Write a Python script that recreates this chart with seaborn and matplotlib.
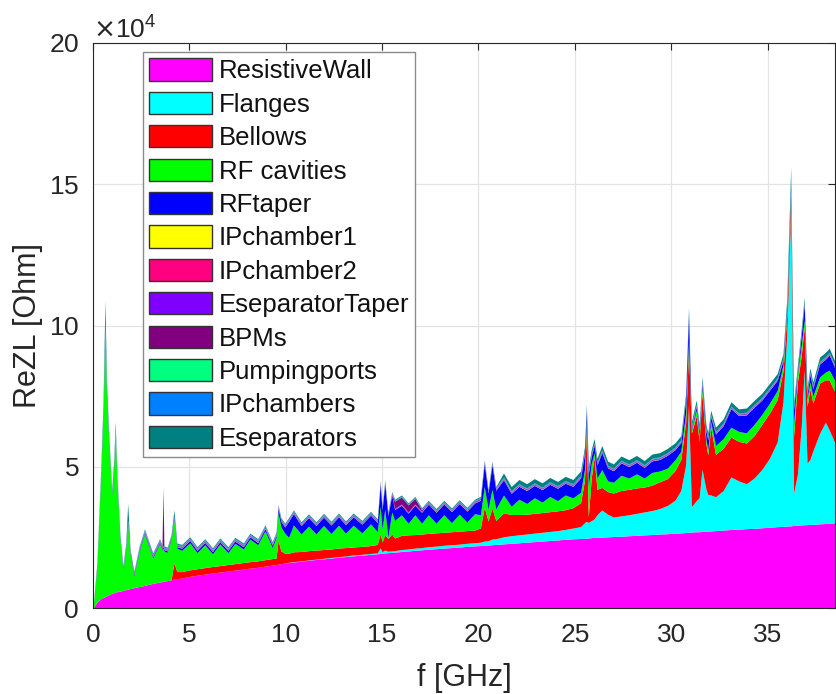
import numpy as np
import matplotlib
matplotlib.use("Agg")
import matplotlib.pyplot as plt
import seaborn as sns
from matplotlib.patches import Patch
from matplotlib.ticker import ScalarFormatter

# frequency points [GHz]
freq = [0.0, 0.2, 0.4, 0.52, 0.62, 0.7, 0.8, 0.97, 1.08, 1.15,
        1.25, 1.4, 1.55, 1.7, 1.8, 1.92, 2.12, 2.4, 2.67, 2.9,
        3.1, 3.45, 3.58, 3.63, 3.68, 3.85, 4.05, 4.2, 4.35, 4.6,
        5.02, 5.4, 5.8, 6.2, 6.58, 7.0, 7.36, 7.8, 8.14, 8.55,
        8.92, 9.3, 9.5, 9.6, 9.75, 9.95, 10.15, 10.4, 10.8, 11.18,
        11.57, 11.96, 12.35, 12.74, 13.1, 13.5, 13.95, 14.4, 14.75, 14.9,
        15.0, 15.14, 15.3, 15.5, 15.65, 16.0, 16.35, 16.7, 17.05, 17.4,
        17.8, 18.2, 18.6, 19.0, 19.4, 19.8, 20.1, 20.3, 20.5, 20.7,
        20.9, 21.3, 21.7, 22.1, 22.5, 22.9, 23.3, 23.7, 24.1, 24.5,
        24.9, 25.3, 25.5, 25.6, 25.7, 25.85, 26.0, 26.15, 26.4, 26.7,
        27.0, 27.4, 27.8, 28.2, 28.6, 29.0, 29.4, 29.8, 30.2, 30.5,
        30.75, 30.9, 31.05, 31.3, 31.45, 31.6, 31.8, 31.9, 32.05, 32.3,
        32.7, 33.1, 33.5, 33.9, 34.3, 34.7, 35.1, 35.5, 35.8, 36.0,
        36.2, 36.35, 36.55, 36.75, 36.9, 37.05, 37.2, 37.35, 37.7, 38.0,
        38.2, 38.45, 38.75]

# contributions, in units of 1e4 Ohm
resistive_wall = [0, .2, .33, .37, .4, .43, .46, .52, .54, .56,
                  .58, .6, .62, .65, .67, .69, .72, .76, .8, .84,
                  .87, .92, .93, .94, .95, .97, 1.0, 1.02, 1.04, 1.06,
                  1.12, 1.16, 1.2, 1.24, 1.27, 1.31, 1.34, 1.38, 1.41, 1.44,
                  1.48, 1.52, 1.54, 1.55, 1.57, 1.59, 1.61, 1.63, 1.66, 1.69,
                  1.72, 1.74, 1.77, 1.8, 1.82, 1.85, 1.87, 1.9, 1.92, 1.93,
                  1.94, 1.95, 1.96, 1.97, 1.98, 2.0, 2.02, 2.04, 2.06, 2.08,
                  2.1, 2.12, 2.14, 2.16, 2.18, 2.2, 2.21, 2.22, 2.23, 2.24,
                  2.25, 2.27, 2.29, 2.31, 2.33, 2.35, 2.37, 2.39, 2.41, 2.43,
                  2.45, 2.46, 2.47, 2.47, 2.48, 2.49, 2.5, 2.5, 2.51, 2.52,
                  2.53, 2.54, 2.56, 2.57, 2.59, 2.6, 2.62, 2.63, 2.65, 2.66,
                  2.67, 2.68, 2.69, 2.7, 2.7, 2.71, 2.72, 2.72, 2.73, 2.74,
                  2.76, 2.78, 2.79, 2.81, 2.82, 2.84, 2.86, 2.88, 2.89, 2.9,
                  2.91, 2.92, 2.93, 2.94, 2.95, 2.95, 2.96, 2.96, 2.98, 2.99,
                  3.0, 3.01, 3.02]

flanges = [0, 0, 0, 0, 0, 0, 0, 0, 0, 0,
           0, 0, 0, 0, 0, 0, 0, 0, 0, 0,
           0, 0, 0, 0, 0, 0, 0, 0, 0, 0,
           0, 0, 0, 0, 0, 0, 0, 0, 0, 0,
           0, 0, 0, 0, 0, 0, .01, .01, .01, .01,
           .01, .02, .02, .02, .02, .03, .03, .03, .03, .2,
           .05, .1, .05, .05, .05, .07, .07, .08, .08, .09,
           .09, .1, .1, .1, .11, .11, .12, .15, .15, .2,
           .2, .25, .27, .28, .29, .3, .31, .32, .33, .35,
           .38, .42, .55, .6, .55, .6, .65, .8, .96, .8,
           .69, .72, .74, .78, .81, .85, .9, 1.0, 1.17, 1.5,
           2.4, 4.5, .9, 1.1, 1.2, 2.2, 1.5, 1.3, 1.27, 1.2,
           1.4, 1.86, 1.71, 1.59, 1.78, 2.06, 2.44, 3.0, 4.4, 6.8,
           11.1, 1.15, 1.8, 3.5, 5.5, 2.18, 2.3, 2.6, 3.2, 3.59,
           3.3, 2.9, 2.82]

bellows = [0, 0, 0, 0, 0, 0, 0, 0, 0, 0,
           0, 0, 0, 0, 0, 0, 0, 0, 0, 0,
           0, 0, 0, 0, 0, 0, 0, .58, .25, .23,
           .23, .23, .23, .23, .23, .23, .23, .23, .23, .23,
           .23, .23, .23, .85, .45, .35, .32, .35, .33, .33,
           .32, .31, .3, .3, .3, .28, .28, .28, .3, .5,
           .35, .55, .45, .6, .45, .5, .5, .48, .48, .47,
           .47, .46, .46, .46, .45, .45, .5, 1.2, .7, 1.1,
           .65, .85, .75, .72, .7, .7, .7, .7, .7, .7,
           .72, .85, 1.5, 3.2, .2, 1.5, 2.2, .9, .8, .8,
           .85, .9, .9, .9, .88, .9, .95, .95, 1.05, 1.1,
           1.5, 2.0, 2.6, 3.0, 2.0, 2.7, 1.6, 1.4, 2.4, 1.5,
           1.5, 1.41, 1.4, 1.44, 1.5, 1.6, 1.6, 1.5, 1.1, .7,
           .6, 2.0, 3.27, 2.5, 1.5, 2.0, 2.5, 1.7, 1.78, 1.5,
           1.77, 1.79, 1.63]

rf_cavities = [0, 1.22, 4.39, 6.46, 9.51, 7.1, 5.7, 3.5, 4.52, 5.7,
               3.84, 1.82, .7, 1.47, 2.29, 1.23, .4, 1.26, 1.82, 1.33,
               .9, 1.35, 1.14, 1.18, 1.07, 1.0, 1.42, 1.53, .83, .75,
               .96, .57, .81, .45, .77, .42, .72, .48, .8, .57,
               1.02, .39, .72, .97, .85, .71, .56, .95, .62, .87,
               .57, .85, .55, .81, .51, .77, .48, .77, .45, .97,
               .46, .9, .04, .78, .62, .73, .41, .7, .38, .66,
               .34, .62, .32, .6, .3, .58, .47, .73, .42, .66,
               .4, .63, .29, .54, .38, .55, .37, .54, .36, .52,
               .35, .37, .38, .33, 1.07, .51, .15, .4, .63, .38,
               .38, .54, .4, .5, .32, .45, .38, .37, .38, .29,
               .33, .32, .11, .2, .2, .19, .18, .18, .2, .31,
               .34, .35, .35, .36, .4, .35, .35, .32, .21, .2,
               .19, .43, .3, .36, .25, .27, .24, .24, .22, .27,
               .35, .4, .43]

rf_taper = [0, .05, .05, .08, .1, .08, .05, .05, .05, .05,
            .05, .05, .05, .05, .05, .05, .05, .05, .05, .05,
            .05, .05, .05, .05, .05, .05, .05, .05, .05, .08,
            .08, .08, .08, .08, .08, .08, .08, .08, .08, .08,
            .08, .08, .08, .15, .2, .22, .57, .4, .3, .3,
            .3, .3, .3, .3, .3, .3, .31, .31, .32, .77,
            .67, .9, .77, .59, .39, .34, .36, .34, .39, .38,
            .39, .38, .39, .38, .39, .38, .52, .81, .57, .87,
            .67, .54, .46, .46, .46, .44, .44, .43, .44, .42,
            .41, .51, .56, .36, .46, .26, .26, .46, .61, .46,
            .41, .44, .41, .41, .38, .41, .41, .46, .36, .31,
            .46, .91, .06, .12, .16, .14, .26, .36, .16, .41,
            .46, .66, .56, .64, .61, .51, .46, .36, .16, .16,
            .21, .52, .06, .36, .56, .16, .26, .26, .46, .46,
            .54, .46, .18]

ip_chamber1 = [0, .01, .01, .01, .01, .01, .01, .01, .01, .01,
               .01, .01, .01, .01, .01, .01, .01, .01, .01, .01,
               .01, .01, .01, .01, .01, .01, .01, .01, .01, .01,
               .01, .01, .01, .01, .01, .01, .01, .01, .01, .01,
               .01, .01, .01, .01, .01, .01, .01, .01, .01, .01,
               .01, .01, .01, .01, .01, .01, .01, .01, .01, .01,
               .01, .01, .01, .01, .01, .01, .01, .01, .01, .01,
               .01, .01, .01, .01, .01, .01, .01, .01, .01, .01,
               .01, .01, .01, .01, .01, .01, .01, .01, .01, .01,
               .01, .01, .01, .01, .01, .01, .01, .01, .01, .01,
               .01, .01, .01, .01, .01, .01, .01, .01, .01, .01,
               .01, .01, .01, .01, .01, .01, .01, .01, .01, .01,
               .01, .01, .01, .01, .01, .01, .01, .01, .01, .01,
               .01, .01, .01, .01, .01, .01, .01, .01, .01, .01,
               .01, .01, .01]

ip_chamber2 = [0, .01, .01, .01, .01, .01, .01, .01, .01, .01,
               .01, .01, .01, .01, .01, .01, .01, .01, .01, .01,
               .01, .01, .01, .01, .01, .01, .01, .01, .01, .01,
               .01, .01, .01, .01, .01, .01, .01, .01, .01, .01,
               .01, .01, .01, .01, .01, .01, .01, .01, .01, .01,
               .01, .01, .01, .01, .01, .01, .01, .01, .01, .01,
               .01, .01, .01, .01, .01, .01, .01, .01, .01, .01,
               .01, .01, .01, .01, .01, .01, .01, .01, .01, .01,
               .01, .01, .01, .01, .01, .01, .01, .01, .01, .01,
               .01, .01, .01, .01, .01, .01, .01, .01, .01, .01,
               .01, .01, .01, .01, .01, .01, .01, .01, .01, .01,
               .01, .01, .01, .01, .01, .01, .01, .01, .01, .01,
               .01, .01, .01, .01, .01, .01, .01, .01, .01, .01,
               .01, .01, .01, .01, .01, .01, .01, .01, .01, .01,
               .01, .01, .01]

eseparator_taper = [0, .02, .02, .02, .02, .02, .02, .02, .02, .02,
                    .02, .02, .02, .02, .02, .02, .02, .02, .02, .02,
                    .02, .02, .02, .02, .02, .02, .02, .02, .02, .02,
                    .02, .02, .02, .02, .02, .02, .02, .02, .02, .02,
                    .02, .02, .02, .02, .02, .02, .02, .02, .02, .02,
                    .02, .02, .02, .02, .02, .02, .02, .02, .02, .02,
                    .02, .02, .02, .02, .02, .02, .02, .02, .02, .02,
                    .02, .02, .02, .02, .02, .02, .02, .02, .02, .02,
                    .02, .02, .02, .02, .02, .02, .02, .02, .02, .02,
                    .02, .02, .02, .02, .02, .02, .02, .02, .02, .02,
                    .02, .02, .02, .02, .02, .02, .02, .02, .02, .02,
                    .02, .02, .02, .02, .02, .02, .02, .02, .02, .02,
                    .02, .02, .02, .02, .02, .02, .02, .02, .02, .02,
                    .02, .02, .02, .02, .02, .02, .02, .02, .02, .02,
                    .02, .02, .02]

bpms = [0, .02, .02, .02, .02, .02, .02, .02, .02, .02,
        .02, .02, .02, .02, .02, .02, .02, .02, .02, .02,
        .02, .02, .02, 2.0, .02, .02, .02, .02, .02, .02,
        .02, .02, .02, .02, .02, .02, .02, .02, .02, .02,
        .02, .02, .02, .02, .02, .02, .02, .02, .02, .02,
        .02, .02, .02, .02, .02, .02, .02, .02, .02, .02,
        .02, .02, .02, .02, .25, .25, .25, .2, .05, .02,
        .02, .02, .02, .02, .02, .02, .02, .02, .02, .02,
        .02, .02, .02, .02, .02, .02, .02, .02, .02, .02,
        .02, .02, .02, .02, .02, .02, .02, .02, .02, .02,
        .02, .02, .02, .02, .02, .02, .02, .02, .02, .02,
        .02, .02, .02, .02, .02, .02, .02, .02, .02, .02,
        .02, .02, .02, .02, .02, .02, .02, .02, .02, .02,
        .02, .02, .02, .02, .02, .02, .02, .02, .02, .02,
        .02, .02, .02]

pumping_ports = [0, .01, .01, .01, .01, .01, .01, .01, .01, .01,
                 .01, .01, .01, .01, .01, .01, .01, .01, .01, .01,
                 .01, .01, .01, .01, .01, .01, .01, .01, .01, .01,
                 .01, .01, .01, .01, .01, .01, .01, .01, .01, .01,
                 .01, .01, .01, .01, .01, .01, .01, .01, .01, .01,
                 .01, .01, .01, .01, .01, .01, .01, .01, .01, .01,
                 .01, .01, .01, .01, .01, .01, .01, .01, .01, .01,
                 .01, .01, .01, .01, .01, .01, .01, .01, .01, .01,
                 .01, .01, .01, .01, .01, .01, .01, .01, .01, .01,
                 .01, .01, .01, .01, .01, .01, .01, .01, .01, .01,
                 .01, .01, .01, .01, .01, .01, .01, .01, .01, .01,
                 .01, .01, .01, .01, .01, .01, .01, .01, .01, .01,
                 .01, .01, .01, .01, .01, .01, .01, .01, .01, .01,
                 .01, .01, .01, .01, .01, .01, .01, .01, .01, .01,
                 .01, .01, .01]

ip_chambers = [0, .02, .02, .02, .02, .02, .02, .02, .02, .02,
               .02, .02, .02, .02, .02, .02, .02, .02, .02, .02,
               .02, .02, .02, .02, .02, .02, .02, .02, .02, .02,
               .02, .02, .02, .02, .02, .02, .02, .02, .02, .02,
               .02, .02, .02, .02, .02, .02, .02, .02, .02, .02,
               .02, .02, .02, .02, .02, .02, .02, .02, .02, .02,
               .02, .02, .02, .02, .02, .02, .02, .02, .02, .02,
               .02, .02, .02, .02, .02, .02, .02, .02, .02, .02,
               .02, .02, .02, .02, .02, .02, .02, .02, .02, .02,
               .02, .02, .02, .02, .02, .02, .02, .02, .02, .02,
               .02, .02, .02, .02, .02, .02, .02, .02, .02, .02,
               .02, .02, .02, .02, .02, .02, .02, .02, .02, .02,
               .02, .02, .02, .02, .02, .02, .02, .02, .02, .02,
               .02, .02, .02, .02, .02, .02, .02, .02, .02, .02,
               .02, .02, .02]

eseparators = [0, .04, .04, .3, .8, .3, .1, .04, .1, .2,
               .04, .04, .04, .04, .6, .04, .04, .04, .04, .04,
               .04, .04, .04, .04, .04, .04, .04, .2, .04, .04,
               .04, .04, .04, .04, .04, .04, .04, .04, .04, .04,
               .04, .04, .04, .04, .04, .04, .04, .04, .04, .04,
               .04, .04, .04, .04, .04, .04, .04, .04, .04, .04,
               .04, .04, .04, .04, .04, .04, .04, .04, .04, .04,
               .04, .04, .04, .04, .04, .04, .04, .04, .04, .04,
               .04, .15, .15, .15, .15, .15, .15, .15, .15, .15,
               .15, .15, .15, .15, .15, .15, .15, .15, .15, .15,
               .15, .15, .15, .15, .15, .15, .15, .15, .15, .15,
               .15, .15, .15, .15, .15, .15, .15, .15, .15, .15,
               .15, .15, .15, .15, .15, .15, .15, .15, .15, .15,
               .5, .15, .15, .15, .15, .15, .15, .15, .15, .15,
               .15, .15, .15]

names = ['ResistiveWall', 'Flanges', 'Bellows', 'RF cavities', 'RFtaper',
         'IPchamber1', 'IPchamber2', 'EseparatorTaper', 'BPMs',
         'Pumpingports', 'IPchambers', 'Eseparators']
colors = ['#ff00ff', '#00ffff', '#ff0000', '#00ff00', '#0000ff',
          '#ffff00', '#ff0080', '#8000ff', '#800080',
          '#00ff80', '#0080ff', '#008080']

layers = [resistive_wall, flanges, bellows, rf_cavities, rf_taper,
          ip_chamber1, ip_chamber2, eseparator_taper, bpms,
          pumping_ports, ip_chambers, eseparators]

sns.set_theme(style="whitegrid")
plt.rcParams['font.family'] = ['Liberation Sans', 'DejaVu Sans']
ink = '#262626'

fig = plt.figure(figsize=(8.36, 6.94), dpi=100)
ax = fig.add_axes([93 / 836, 86 / 694, 742 / 836, 565 / 694])

ax.stackplot(freq, *[np.array(s) * 1e4 for s in layers], colors=colors,
             linewidth=0)

ax.set_xlim(0, 38.5)
ax.set_ylim(0, 20e4)
ax.set_xticks(range(0, 40, 5))
ax.set_yticks([0, 5e4, 10e4, 15e4, 20e4])
fmt = ScalarFormatter(useMathText=True)
fmt.set_powerlimits((4, 4))
ax.yaxis.set_major_formatter(fmt)
ax.yaxis.get_offset_text().set_fontsize(19)
ax.yaxis.get_offset_text().set_color(ink)

ax.grid(True, color='#e3e3e3', linewidth=0.9)
ax.set_axisbelow(True)
ax.tick_params(direction='in', length=5, width=0.8, top=True, right=True,
               labelsize=19, pad=11, colors=ink)
ax.tick_params(axis='y', pad=10)
for sp in ax.spines.values():
    sp.set_color(ink)
    sp.set_linewidth(0.8)

ax.set_xlabel('f [GHz]', fontsize=22, color=ink, labelpad=11)
ax.set_ylabel('ReZL [Ohm]', fontsize=22, color=ink, labelpad=4)

handles = [Patch(facecolor=c, edgecolor='#333333', linewidth=1.0, label=n)
           for c, n in zip(colors, names)]
leg = ax.legend(handles=handles, loc='upper left', bbox_to_anchor=(0.067, 0.984),
                borderaxespad=0, fontsize=18.5, handlelength=2.45, handleheight=0.95,
                handletextpad=0.25, labelspacing=0.33, borderpad=0.25,
                frameon=True, fancybox=False, framealpha=1, edgecolor='#8a8a8a')
leg.get_frame().set_linewidth(1.0)
for t in leg.get_texts():
    t.set_color('#111111')

fig.savefig('out.png', dpi=100)
